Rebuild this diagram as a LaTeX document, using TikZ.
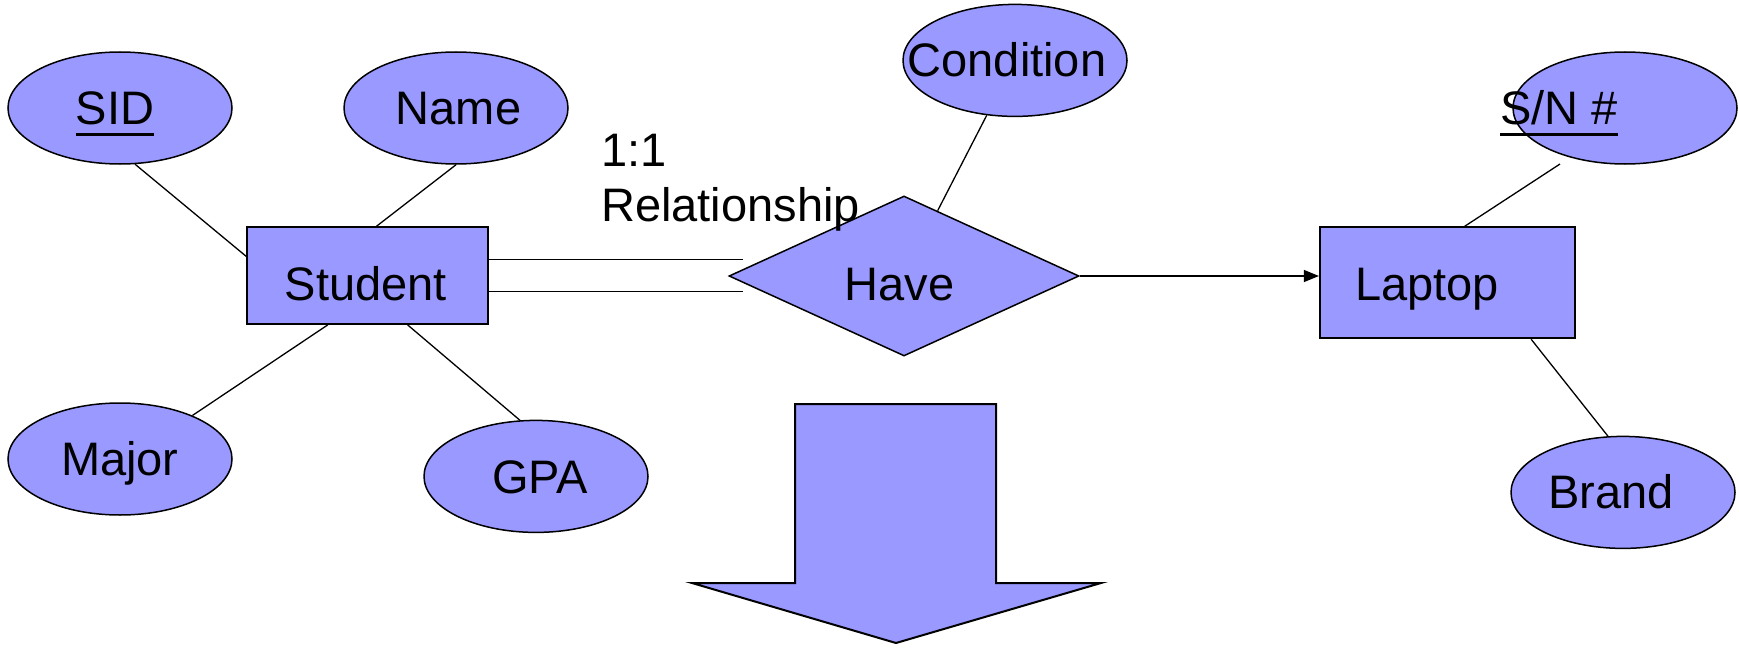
\documentclass[tikz,border=0pt]{standalone}
\usepackage{fontspec}
\setmainfont{Liberation Sans}
\usetikzlibrary{shapes.geometric,arrows.meta,calc}
\definecolor{erfill}{RGB}{153,153,255}
% underlined key attribute
\newsavebox{\keybox}
\newcommand{\keyattr}[1]{\sbox{\keybox}{#1}\rlap{\rule[-11.5pt]{\wd\keybox}{2.6pt}}\usebox{\keybox}}
\begin{document}
\begin{tikzpicture}[x=1pt,y=-1pt,
  attr/.style={ellipse, draw=black, line width=1.5pt, fill=erfill,
    minimum width=224pt, minimum height=112pt, inner sep=0pt},
  entity/.style={rectangle, draw=black, line width=2pt, fill=erfill, inner sep=0pt},
  relship/.style={diamond, draw=black, line width=1.5pt, fill=erfill,
    aspect=2.19, minimum width=350pt, minimum height=160pt, inner sep=0pt},
  txt/.style={font=\fontsize{47}{56}\selectfont, inner sep=0pt,
    text height=32.5pt, text depth=0pt},
  lbl/.style={font=\fontsize{47}{56}\selectfont, inner sep=0pt, anchor=base west},
  conn/.style={line width=1.3pt}]
\useasboundingbox (0,0) rectangle (1739,650);

% entities and relationship
\node[entity, minimum width=241pt, minimum height=96.5pt] (student) at (367.7,275.6) {};
\node[entity, minimum width=255pt, minimum height=111pt] (laptop) at (1447.4,282.8) {};
\node[relship] (have) at (904,276) {};

% attributes
\node[attr] (sid) at (120,108) {};
\node[attr] (name) at (456,108) {};
\node[attr] (condition) at (1015,60.4) {};
\node[attr] (sn) at (1625,108) {};
\node[attr] (major) at (120,459) {};
\node[attr] (gpa) at (536,476.4) {};
\node[attr] (brand) at (1623,492.4) {};

% connectors
\draw[conn] (sid.-75) -- (student.171);
\draw[conn] (name.south) -- (student.80);
\draw[conn] (major.31) -- (student.-129.5);
\draw[conn] (gpa.106) -- (student.-51);
\draw[conn] (condition) -- (have);
\coordinate (snfoot) at (1560,164);
\draw[conn] (snfoot) -- (laptop.73);
\draw[conn] (laptop.-34.4) -- (brand.105);

% total participation: double line from Student
\coordinate (dblA) at (743,259.5);
\coordinate (dblB) at (743,291.7);
\draw[line width=1.5pt] (student.east |- dblA) -- (dblA);
\draw[line width=1.5pt] (student.east |- dblB) -- (dblB);

% key constraint arrow into Laptop
\draw[conn, -{Triangle[length=15pt,width=12pt]}] (have.east) -- (have.east -| laptop.west);

% texts
\node[txt] (studenttxt) at (366,284) {Student};
\node[txt] (laptoptxt) at (1427,284) {Laptop};
\node[txt] (havetxt) at (899.5,284) {Have};
\node[txt] (sidtxt) at (115,108) {\keyattr{SID}};
\node[txt] (nametxt) at (458.6,108) {Name};
\node[txt] (conditiontxt) at (1007,60) {Condition};
\node[txt] (sntxt) at (1559,108) {\keyattr{S/N \#}};
\node[txt] (majortxt) at (119.8,459) {Major};
\node[txt] (gpatxt) at (540,477) {GPA};
\node[txt] (brandtxt) at (1611,492) {Brand};

\node[lbl] (card) at (601,166.4) {1:1};
\node[lbl] (reltxt) at (601,221.8) {Relationship};

% big downward arrow
\draw[line width=2pt, fill=erfill] (795,404) -- (996,404) -- (996,583) -- (1101,583)
  -- (896,643) -- (692,583) -- (795,583) -- cycle;
\end{tikzpicture}
\end{document}
